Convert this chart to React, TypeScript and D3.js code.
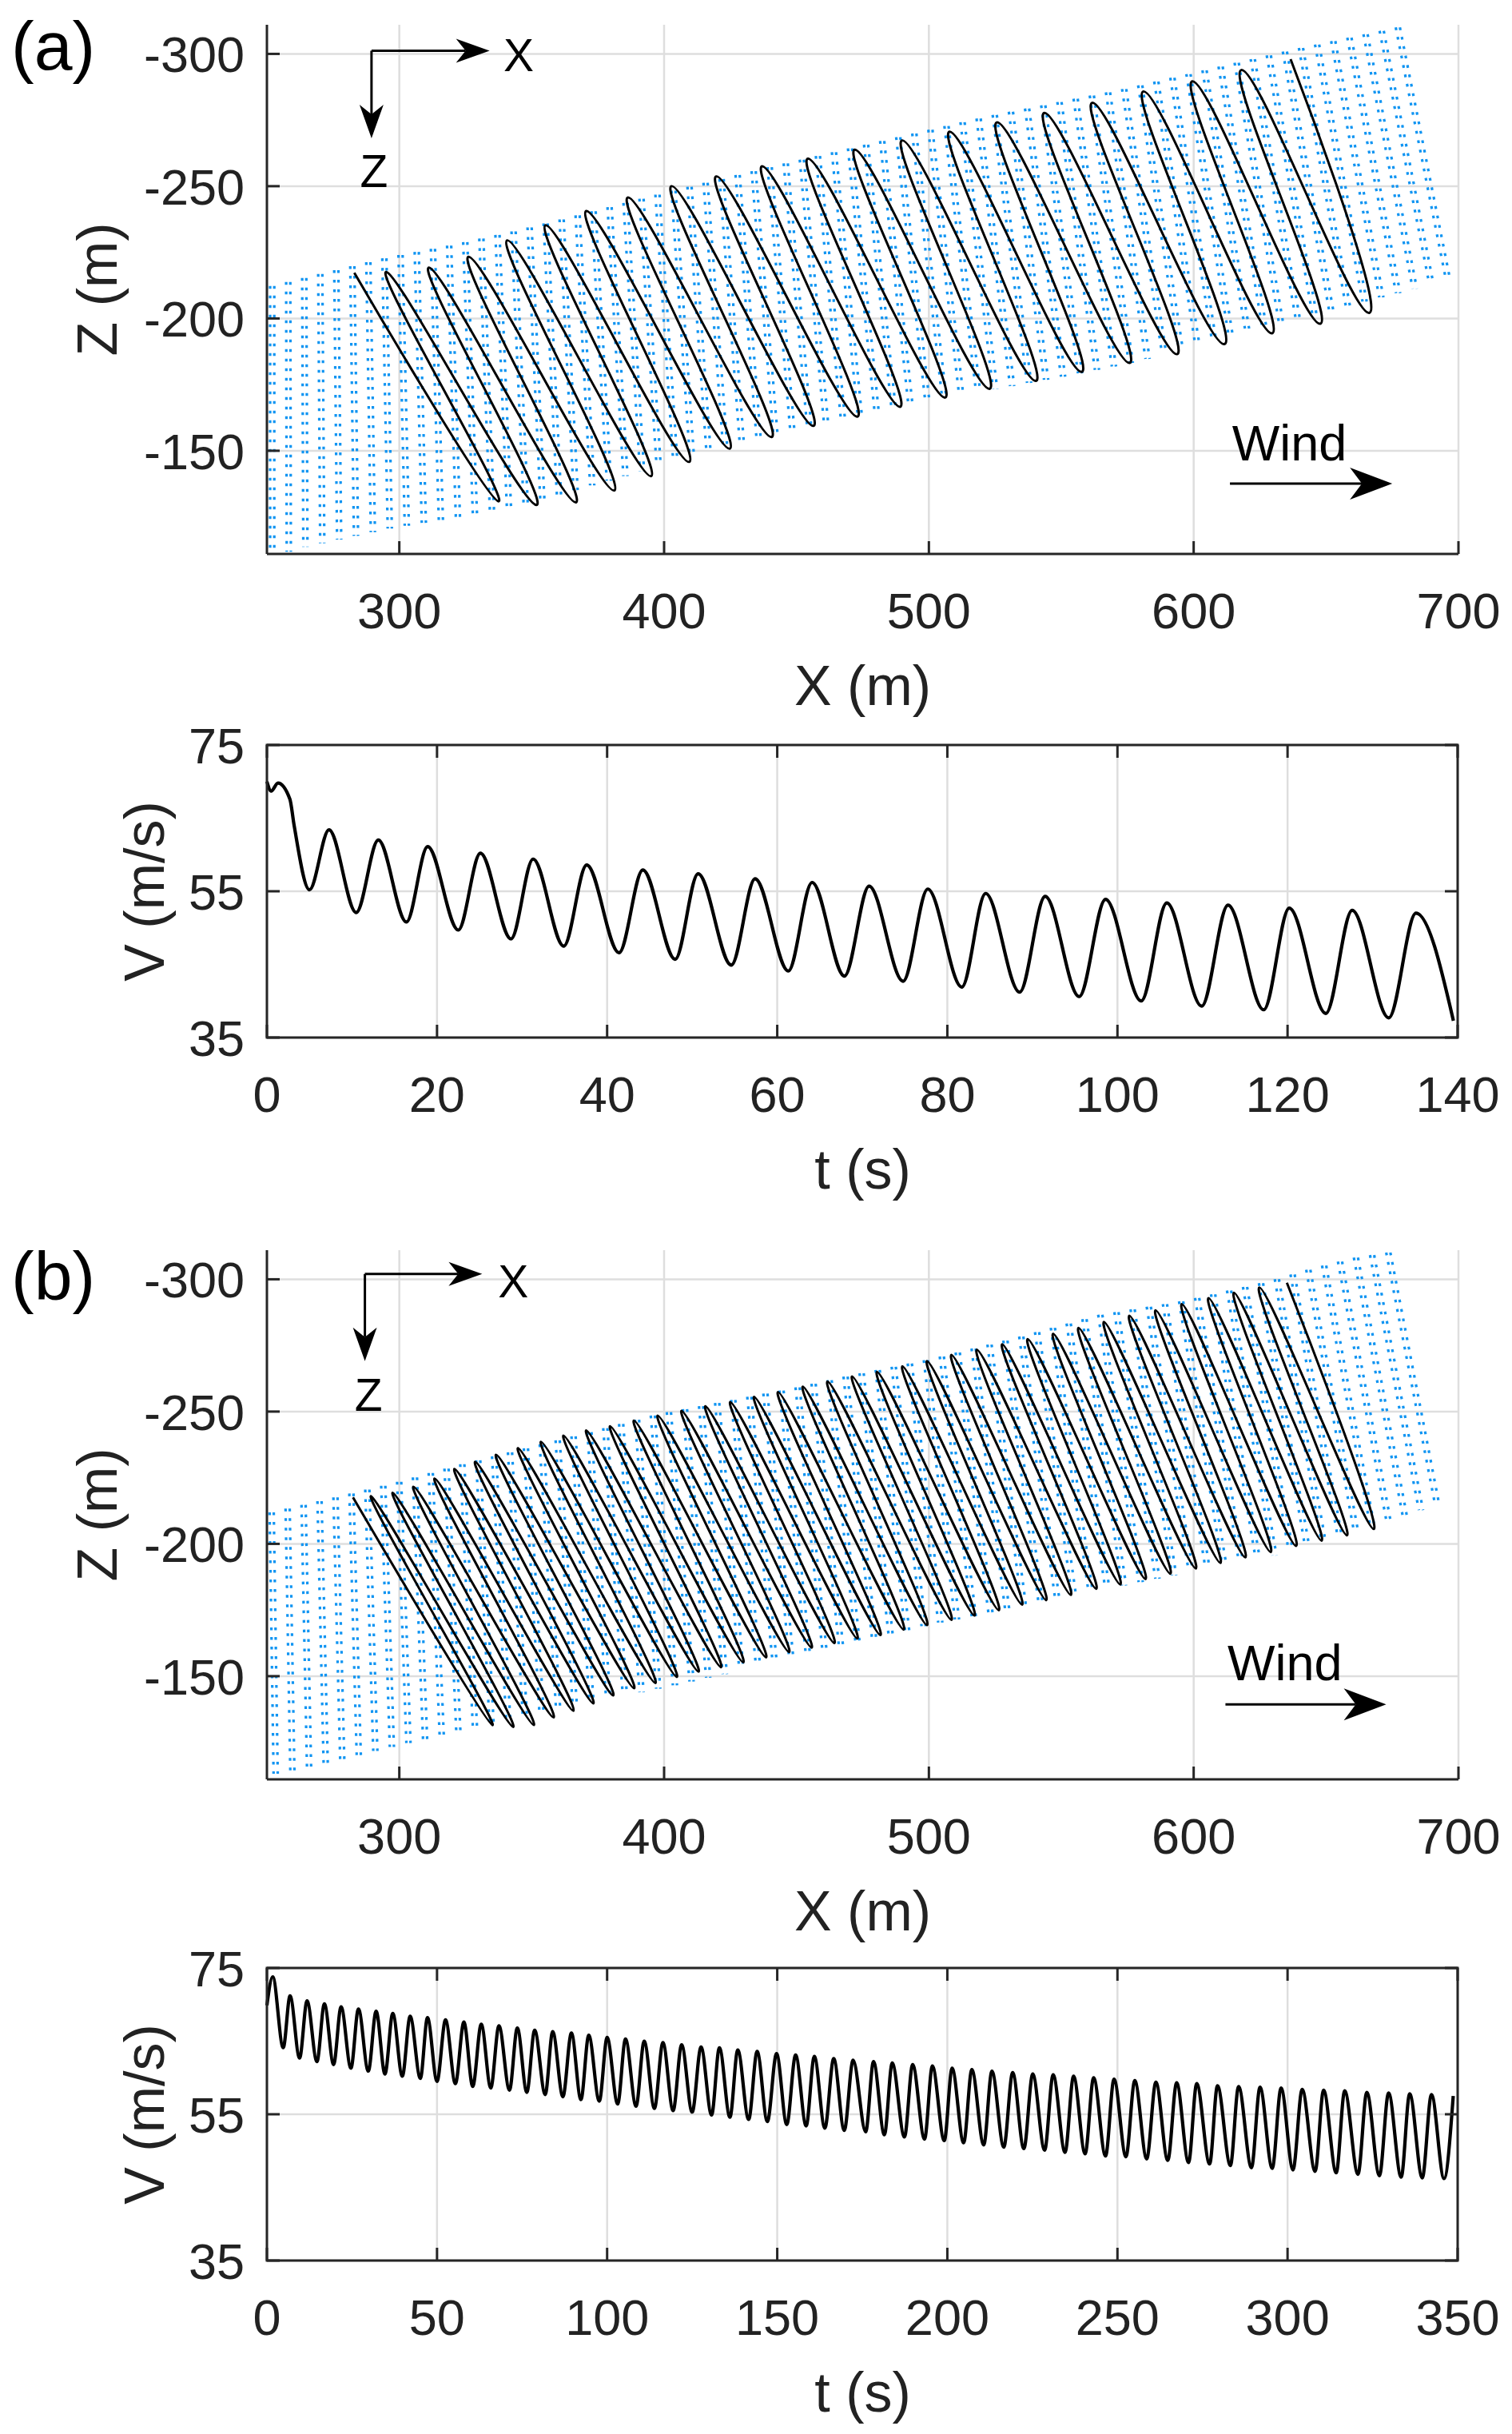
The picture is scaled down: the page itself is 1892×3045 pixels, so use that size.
import React from 'react';
import * as d3 from 'd3';

type P = [number, number];

// ---- axis ticks ----
const xTicks = [300, 400, 500, 600, 700];
const zTicks = [-300, -250, -200, -150];
const vTicks = [35, 55, 75];
const tTicksA = [0, 20, 40, 60, 80, 100, 120, 140];
const tTicksB = [0, 50, 100, 150, 200, 250, 300, 350];

// ---- (a) trajectory turning points, X (m), Z (m) ----
const startA: P = [283.0, -217.3];
const bottomsA: P[] = [
  [337.5, -130.9], [351.8, -129.5], [366.7, -130.5], [381.2, -135.0], [395.1, -140.4],
  [409.5, -145.8], [424.8, -150.8], [440.6, -155.2], [456.4, -159.4], [473.0, -162.9],
  [489.1, -166.6], [506.1, -170.1], [522.9, -173.4], [540.4, -176.4], [557.7, -179.8],
  [575.8, -183.2], [593.7, -186.5], [611.6, -190.3], [629.6, -194.4], [647.8, -198.0],
  [666.3, -202.1],
];
const topsA: P[] = [
  [295.1, -217.6], [311.2, -219.2], [326.1, -223.3], [340.7, -229.5], [355.2, -235.2],
  [370.6, -240.6], [386.3, -245.7], [402.8, -250.0], [419.7, -253.7], [437.0, -257.5],
  [454.3, -260.4], [472.0, -263.8], [489.9, -267.3], [507.8, -270.6], [525.7, -274.1],
  [543.6, -277.7], [561.7, -281.5], [581.0, -285.8], [599.5, -289.6], [618.0, -293.9],
  [636.6, -298.0],
];

// ---- (b) trajectory turning points ----
const startB: P = [282.5, -217.6];
const bottomsB: P[] = [
  [335.2, -131.5], [343.0, -130.8], [350.8, -131.5], [358.3, -134.4], [365.8, -136.9],
  [373.3, -139.7], [380.8, -142.7], [388.7, -145.4], [396.7, -147.4], [404.8, -149.7],
  [413.0, -151.7], [421.5, -153.4], [429.9, -155.2], [438.5, -157.1], [447.2, -159.1],
  [455.7, -160.8], [464.3, -162.5], [473.0, -164.2], [481.7, -165.5], [490.5, -167.6],
  [499.3, -169.3], [508.5, -171.3], [517.2, -172.9], [526.4, -174.9], [535.2, -177.0],
  [544.3, -178.7], [553.6, -180.7], [563.2, -183.0], [572.3, -184.6], [581.8, -186.7],
  [591.2, -188.7], [600.8, -190.7], [610.1, -192.8], [619.5, -194.9], [629.1, -196.9],
  [638.7, -199.2], [648.3, -201.2], [657.9, -203.2], [668.0, -205.6],
];
const topsB: P[] = [
  [289.3, -218.0], [297.5, -219.3], [305.3, -221.6], [313.3, -224.7], [320.8, -228.3],
  [328.6, -231.0], [336.5, -233.7], [344.8, -236.2], [353.5, -238.6], [362.0, -240.9],
  [370.6, -242.9], [379.6, -244.5], [388.6, -246.6], [397.6, -248.5], [406.6, -250.3],
  [415.6, -252.0], [425.0, -253.6], [434.0, -255.6], [443.0, -257.4], [452.4, -259.4],
  [461.7, -261.4], [471.0, -263.3], [480.4, -265.0], [490.0, -267.1], [499.3, -269.1],
  [508.5, -271.4], [518.1, -273.4], [527.7, -275.4], [537.3, -277.4], [546.9, -279.4],
  [556.5, -281.6], [566.1, -283.9], [575.7, -286.2], [585.6, -288.3], [595.5, -290.6],
  [605.6, -292.9], [615.2, -294.9], [624.8, -296.9], [635.2, -298.7],
];

// ---- blue dotted band edges (X, Z) ----
const bandUpperA: P[] = [
  [252, -212.3], [271, -217], [295.4, -223], [319.7, -227.7], [344, -233.1], [368.3, -239.2],
  [399.4, -247.3], [441.2, -257.5], [522.3, -276.4], [572.8, -286.5], [639.3, -302], [677.1, -310],
];
const bandLowerA: P[] = [
  [252, -110], [264.3, -113.6], [295.4, -120.4], [342.7, -128.4], [429.6, -152.9], [492, -166.3],
  [516.4, -171.7], [552.9, -178.4], [579.8, -183.9], [606.9, -192], [633.9, -198], [658.2, -204.8],
  [682.5, -210.9], [696, -215],
];
const bandUpperB: P[] = [
  [251.8, -211.9], [276, -217.6], [299.8, -223.4], [323.8, -230.1], [347.8, -236.1], [371.8, -242.2],
  [397.3, -248.9], [415.2, -252.3], [449.7, -259], [470.7, -263.7], [500.8, -269.8], [532.8, -277.8],
  [564.8, -286.6], [596.8, -291.9], [628.8, -299.3], [644.7, -304], [660.7, -308.1], [673.5, -310.1],
];
const bandLowerB: P[] = [
  [253.3, -113.1], [269.8, -116.5], [299.8, -123.9], [329.8, -130.6], [359.8, -137.3], [404.8, -146.7],
  [464.7, -160.2], [500.8, -169.6], [532.8, -175.6], [564.8, -182.4], [596.8, -189], [628.8, -195.1],
  [652.8, -202.5], [673.5, -209], [692, -214.6],
];

// ---- speed V (m/s) against t (s), turning points ----
const speedA: P[] = [
  [0, 70.0], [0.5, 68.7], [1.3, 69.8], [2.7, 67.6], [3.2, 64.0], [5.0, 55.2], [7.3, 63.4],
  [10.5, 52.1], [13.1, 62.0], [16.4, 50.8], [18.9, 61.1], [22.5, 49.7], [25.1, 60.2],
  [28.7, 48.5], [31.3, 59.4], [34.9, 47.5], [37.6, 58.6], [41.4, 46.6], [44.2, 57.9],
  [48.0, 45.7], [50.7, 57.4], [54.6, 44.9], [57.4, 56.7], [61.3, 44.1], [64.1, 56.2],
  [67.9, 43.4], [70.8, 55.7], [74.8, 42.7], [77.7, 55.3], [81.7, 41.9], [84.5, 54.7],
  [88.5, 41.2], [91.5, 54.3], [95.5, 40.6], [98.6, 53.9], [102.8, 40.0], [105.8, 53.4],
  [109.9, 39.3], [113.0, 53.1], [117.2, 38.8], [120.2, 52.7], [124.5, 38.3], [127.6, 52.4],
  [131.9, 37.7], [135.1, 52.0], [139.5, 37.3],
];
const speedB: P[] = [
  [0, 69.9], [1.7, 73.8], [4.8, 64.1], [6.8, 71.2], [9.6, 62.7], [11.8, 70.5], [14.7, 62.2],
  [16.9, 70.1], [19.6, 61.8], [21.8, 69.7], [24.7, 61.3], [26.9, 69.4], [29.8, 60.9],
  [32.1, 69.1], [34.7, 60.5], [37.0, 68.8], [39.8, 60.2], [42.1, 68.4], [45.1, 59.9],
  [47.2, 68.2], [50.0, 59.5], [52.5, 67.9], [55.4, 59.2], [57.9, 67.6], [60.5, 58.8],
  [63.0, 67.3], [65.8, 58.6], [68.2, 67.1], [71.3, 58.3], [73.6, 66.8], [76.4, 58.0],
  [78.7, 66.5], [81.8, 57.7], [84.0, 66.3], [87.0, 57.4], [89.5, 66.1], [92.3, 57.0],
  [94.6, 65.8], [97.7, 56.8], [100.0, 65.5], [103.1, 56.4], [105.4, 65.3], [108.5, 56.1],
  [110.9, 65.0], [113.9, 55.8], [116.4, 64.8], [119.4, 55.5], [121.9, 64.5], [125.0, 55.3],
  [127.6, 64.2], [130.7, 54.9], [133.0, 64.1], [136.1, 54.6], [138.4, 63.8], [141.6, 54.3],
  [144.1, 63.6], [147.1, 54.0], [149.8, 63.3], [152.8, 53.6], [155.4, 63.1], [158.5, 53.4],
  [160.9, 62.9], [164.0, 53.1], [166.6, 62.6], [169.7, 52.8], [172.3, 62.4], [176.0, 52.6],
  [178.3, 62.2], [181.5, 52.2], [183.8, 62.0], [187.4, 51.9], [189.8, 61.8], [193.3, 51.6],
  [195.6, 61.6], [199.1, 51.4], [201.4, 61.3], [204.8, 51.1], [207.2, 61.1], [210.7, 50.8],
  [213.1, 60.9], [216.6, 50.5], [219.2, 60.7], [222.5, 50.3], [225.1, 60.5], [228.6, 50.1],
  [231.1, 60.4], [234.6, 49.8], [237.1, 60.2], [240.5, 49.6], [243.0, 60.0], [246.5, 49.3],
  [249.0, 59.8], [252.5, 49.2], [255.1, 59.6], [258.6, 48.9], [261.3, 59.4], [264.8, 48.7],
  [267.4, 59.3], [270.9, 48.4], [273.3, 59.2], [277.1, 48.2], [279.4, 58.9], [283.2, 48.0],
  [285.6, 58.8], [289.4, 47.7], [291.9, 58.7], [295.5, 47.6], [298.1, 58.6], [301.6, 47.4],
  [304.3, 58.4], [308.1, 47.2], [310.6, 58.3], [314.3, 47.0], [316.8, 58.2], [320.7, 46.8],
  [323.3, 58.0], [327.0, 46.6], [329.7, 57.9], [333.4, 46.4], [335.9, 57.8], [339.6, 46.3],
  [342.3, 57.7], [346.0, 46.2], [348.7, 57.5],
];

// ---- layout ----
const W = 1892;
const H = 3045;
const LEFT = 334;
const RIGHT = 1825;
const FONT = '"Liberation Sans", Arial, Helvetica, sans-serif';
const AXIS = '#262626';
const GRID = '#dedede';
const DOTS = '#0f94f2';

function along(pts: P[], u: number): P {
  const lens = [0];
  for (let i = 1; i < pts.length; i++) {
    lens.push(lens[i - 1] + Math.hypot(pts[i][0] - pts[i - 1][0], pts[i][1] - pts[i - 1][1]));
  }
  const target = u * lens[lens.length - 1];
  const i = d3.bisectLeft(lens, target);
  if (i <= 0) return pts[0];
  if (i >= pts.length) return pts[pts.length - 1];
  const t = (target - lens[i - 1]) / (lens[i] - lens[i - 1] || 1);
  return [pts[i - 1][0] + t * (pts[i][0] - pts[i - 1][0]), pts[i - 1][1] + t * (pts[i][1] - pts[i - 1][1])];
}

function arrowHead(tx: number, ty: number, dx: number, dy: number, len: number, half: number, notch: number) {
  const n = Math.hypot(dx, dy);
  const ux = dx / n, uy = dy / n;
  const px = -uy, py = ux;
  const bx = tx - ux * len, by = ty - uy * len;
  const nx = tx - ux * (len - notch), ny = ty - uy * (len - notch);
  return `M${tx},${ty}L${bx + px * half},${by + py * half}L${nx},${ny}L${bx - px * half},${by - py * half}Z`;
}

interface Anno {
  corner: P; xTip: number; zTip: number; xLabel: P; zLabel: P;
  windText: P; windFrom: number; windTo: number; windZ: number;
}

const annoA: Anno = {
  corner: [289.5, -301.2], xTip: 334.1, zTip: -268.1, xLabel: [339.3, -293.5], zLabel: [290.4, -249.7],
  windText: [614.5, -146.3], windFrom: 613.7, windTo: 675.0, windZ: -137.6,
};
const annoB: Anno = {
  corner: [287.0, -302.0], xTip: 331.3, zTip: -269.1, xLabel: [337.3, -293.3], zLabel: [288.4, -250.3],
  windText: [612.8, -148.5], windFrom: 612.0, windTo: 672.7, windZ: -139.3,
};

const TopPanel: React.FC<{
  top: number; id: string; start: P; tops: P[]; bottoms: P[]; upper: P[]; lower: P[]; anno: Anno;
}> = ({ top, id, start, tops, bottoms, upper, lower, anno }) => {
  const bottom = top + 662;
  const x = d3.scaleLinear().domain([250, 700]).range([LEFT, RIGHT]);
  const z = d3.scaleLinear().domain([-311, -111]).range([top, bottom]);

  const traj: P[] = [start];
  bottoms.forEach((b, i) => { traj.push(b); traj.push(tops[i]); });
  // negative tension widens the rounded loop tips
  const line = d3.line<P>().x(d => x(d[0])).y(d => z(d[1])).curve(d3.curveCardinal.tension(-1.1));

  const upPx: P[] = upper.map(d => [x(d[0]), z(d[1])]);
  const loPx: P[] = lower.map(d => [x(d[0]), z(d[1])]);
  const nCols = 71;
  const cols = d3.range(nCols).map(i => {
    const u = i / (nCols - 1);
    return [along(upPx, u), along(loPx, u)] as [P, P];
  });

  const cx = x(anno.corner[0]), cz = z(anno.corner[1]);
  const hx = x(anno.xTip), vz = z(anno.zTip);
  const wy = z(anno.windZ), wx0 = x(anno.windFrom), wx1 = x(anno.windTo);

  return (
    <g>
      <defs>
        <clipPath id={id}>
          <rect x={LEFT} y={top} width={RIGHT - LEFT} height={bottom - top} />
        </clipPath>
      </defs>
      {xTicks.map(t => (
        <line key={'gx' + t} x1={x(t)} x2={x(t)} y1={top} y2={bottom} stroke={GRID} strokeWidth={2.5} />
      ))}
      {zTicks.map(t => (
        <line key={'gz' + t} x1={LEFT} x2={RIGHT} y1={z(t)} y2={z(t)} stroke={GRID} strokeWidth={2.5} />
      ))}
      <g clipPath={`url(#${id})`}>
        {cols.map(([a, b], i) => (
          <g key={i}>
            {[-2.6, 2.6].map(off => (
              <line key={off} x1={a[0] + off} y1={a[1]} x2={b[0] + off} y2={b[1]}
                stroke={DOTS} strokeWidth={3.2} strokeDasharray="3.5 8.5" />
            ))}
          </g>
        ))}
        <path d={line(traj) || ''} fill="none" stroke="#000" strokeWidth={3} />
      </g>
      {/* axes */}
      <line x1={LEFT} x2={LEFT} y1={top} y2={bottom} stroke={AXIS} strokeWidth={3} />
      <line x1={LEFT} x2={RIGHT} y1={bottom} y2={bottom} stroke={AXIS} strokeWidth={3} />
      {zTicks.map(t => (
        <g key={'tz' + t}>
          <line x1={LEFT} x2={LEFT + 16} y1={z(t)} y2={z(t)} stroke={AXIS} strokeWidth={3} />
          <text x={306} y={z(t)} dy="0.36em" textAnchor="end" fontSize={63} fill="#222" fontFamily={FONT}>{t}</text>
        </g>
      ))}
      {xTicks.map(t => (
        <g key={'tx' + t}>
          <line x1={x(t)} x2={x(t)} y1={bottom} y2={bottom - 16} stroke={AXIS} strokeWidth={3} />
          <text x={x(t)} y={bottom + 93} textAnchor="middle" fontSize={63} fill="#222" fontFamily={FONT}>{t}</text>
        </g>
      ))}
      <text x={(LEFT + RIGHT) / 2} y={bottom + 189} textAnchor="middle" fontSize={70} fill="#222" fontFamily={FONT}>X (m)</text>
      <text transform={`translate(121,${(top + bottom) / 2}) rotate(-90)`} dy="0.35em" textAnchor="middle"
        fontSize={70} fill="#222" fontFamily={FONT}>Z (m)</text>
      {/* coordinate arrows */}
      <line x1={cx} y1={cz} x2={hx - 30} y2={cz} stroke="#000" strokeWidth={3} />
      <path d={arrowHead(hx, cz, 1, 0, 42, 15, 12)} fill="#000" />
      <line x1={cx} y1={cz} x2={cx} y2={vz - 30} stroke="#000" strokeWidth={3} />
      <path d={arrowHead(cx, vz, 0, 1, 42, 15, 12)} fill="#000" />
      <text x={x(anno.xLabel[0])} y={z(anno.xLabel[1])} fontSize={57} fontFamily={FONT} fill="#000">X</text>
      <text x={x(anno.zLabel[0])} y={z(anno.zLabel[1])} fontSize={57} textAnchor="middle" fontFamily={FONT} fill="#000">Z</text>
      {/* wind arrow */}
      <text x={x(anno.windText[0])} y={z(anno.windText[1])} fontSize={63} fontFamily={FONT} fill="#000">Wind</text>
      <line x1={wx0} y1={wy} x2={wx1 - 38} y2={wy} stroke="#000" strokeWidth={3} />
      <path d={arrowHead(wx1, wy, 1, 0, 53, 20, 15)} fill="#000" />
    </g>
  );
};

const SpeedPanel: React.FC<{ top: number; data: P[]; tTicks: number[]; tMax: number }> = ({ top, data, tTicks, tMax }) => {
  const bottom = top + 366;
  const x = d3.scaleLinear().domain([0, tMax]).range([LEFT, RIGHT - 1]);
  const y = d3.scaleLinear().domain([35, 75]).range([bottom, top]);
  const line = d3.line<P>().x(d => x(d[0])).y(d => y(d[1])).curve(d3.curveMonotoneX);
  return (
    <g>
      {tTicks.map(t => (
        <line key={'g' + t} x1={x(t)} x2={x(t)} y1={top} y2={bottom} stroke={GRID} strokeWidth={2.5} />
      ))}
      {vTicks.map(v => (
        <line key={'h' + v} x1={LEFT} x2={x(tMax)} y1={y(v)} y2={y(v)} stroke={GRID} strokeWidth={2.5} />
      ))}
      <path d={line(data) || ''} fill="none" stroke="#000" strokeWidth={4.2} strokeLinejoin="round" />
      <rect x={LEFT} y={top} width={x(tMax) - LEFT} height={bottom - top} fill="none" stroke={AXIS} strokeWidth={3} />
      {tTicks.map(t => (
        <g key={'t' + t}>
          <line x1={x(t)} x2={x(t)} y1={bottom} y2={bottom - 16} stroke={AXIS} strokeWidth={3} />
          <line x1={x(t)} x2={x(t)} y1={top} y2={top + 16} stroke={AXIS} strokeWidth={3} />
          <text x={x(t)} y={bottom + 93} textAnchor="middle" fontSize={63} fill="#222" fontFamily={FONT}>{t}</text>
        </g>
      ))}
      {vTicks.map(v => (
        <g key={'v' + v}>
          <line x1={LEFT} x2={LEFT + 16} y1={y(v)} y2={y(v)} stroke={AXIS} strokeWidth={3} />
          <line x1={x(tMax)} x2={x(tMax) - 16} y1={y(v)} y2={y(v)} stroke={AXIS} strokeWidth={3} />
          <text x={306} y={y(v)} dy="0.36em" textAnchor="end" fontSize={63} fill="#222" fontFamily={FONT}>{v}</text>
        </g>
      ))}
      <text x={(LEFT + RIGHT) / 2} y={bottom + 189} textAnchor="middle" fontSize={70} fill="#222" fontFamily={FONT}>t (s)</text>
      <text transform={`translate(180,${(top + bottom) / 2}) rotate(-90)`} dy="0.35em" textAnchor="middle"
        fontSize={70} fill="#222" fontFamily={FONT}>V (m/s)</text>
    </g>
  );
};

export default function App() {
  return (
    <svg width={W} height={H} viewBox={`0 0 ${W} ${H}`}
      style={{ position: 'absolute', left: 0, top: 0, background: '#fff' }}>
      <rect width={W} height={H} fill="#fff" />
      <text x={14} y={87} fontSize={86} fontFamily={FONT} fill="#000">(a)</text>
      <TopPanel top={31} id="clipA" start={startA} tops={topsA} bottoms={bottomsA}
        upper={bandUpperA} lower={bandLowerA} anno={annoA} />
      <SpeedPanel top={932} data={speedA} tTicks={tTicksA} tMax={140} />
      <text x={14} y={1626} fontSize={86} fontFamily={FONT} fill="#000">(b)</text>
      <TopPanel top={1564} id="clipB" start={startB} tops={topsB} bottoms={bottomsB}
        upper={bandUpperB} lower={bandLowerB} anno={annoB} />
      <SpeedPanel top={2462} data={speedB} tTicks={tTicksB} tMax={350} />
    </svg>
  );
}
